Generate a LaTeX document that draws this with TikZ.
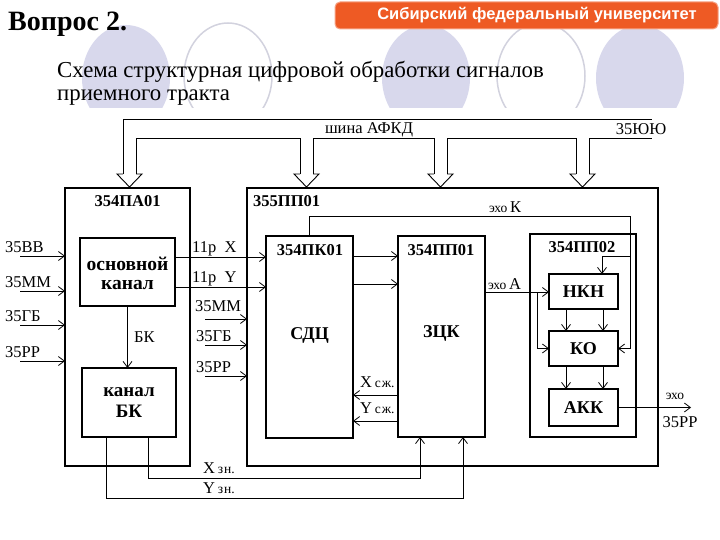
\documentclass[tikz,border=0pt]{standalone}
\usepackage{fontspec}
\setmainfont{Liberation Serif}
\newfontfamily\bannerfont{Liberation Sans}
\usetikzlibrary{arrows.meta}
\definecolor{lav}{HTML}{D8D8EC}
\definecolor{ringc}{HTML}{D2D2DE}
\definecolor{uniorange}{HTML}{EE5A24}
\newcommand\lblfont{\fontsize{16.5}{18}\selectfont}
\newcommand\smfont{\fontsize{13.5}{15}\selectfont}
\newcommand\ttlfont{\fontsize{16.5}{18}\selectfont\bfseries}
\newcommand\blkfont{\fontsize{18}{19}\selectfont\bfseries}
\begin{document}
\begin{tikzpicture}[x=1pt,y=-1pt,
  blk/.style={draw, line width=1.6pt, inner sep=0pt, outer sep=0pt},
  conn/.style={line width=0.8pt},
  arr/.style={conn, -{Straight Barb[length=6pt,width=9pt]}},
  bus/.style={line width=0.9pt, line join=miter},
  txt/.style={inner sep=0pt, font=\lblfont},
  ttl/.style={inner sep=0pt, font=\ttlfont},
  blktxt/.style={inner sep=0pt, font=\blkfont, align=center}]
\useasboundingbox (0,0) rectangle (720,540);

% decorative ellipses
\begin{scope}
  \clip (0,0) rectangle (720,108);
  \fill[lav] (126,78) ellipse [x radius=44pt, y radius=53pt];
  \draw[ringc, line width=1.5pt, fill=white] (228,76) ellipse [x radius=44pt, y radius=53pt];
  \fill[lav] (426,78) ellipse [x radius=44pt, y radius=53pt];
  \draw[ringc, line width=1.5pt, fill=white] (541,76) ellipse [x radius=44pt, y radius=53pt];
  \fill[lav] (640,78) ellipse [x radius=44pt, y radius=53pt];
\end{scope}

% banner
\draw[fill=uniorange, draw=uniorange!55!white, line width=1pt, rounded corners=5pt] (335,2) rectangle (718,29);
\node[inner sep=0pt, text=white, font=\bannerfont\bfseries\fontsize{16.5}{18}\selectfont] (banner) at (537,15.5) {Сибирский федеральный университет};

% titles
\node[anchor=base west, inner sep=0pt, font=\fontsize{28}{30}\selectfont\bfseries] (q) at (8,31) {Вопрос 2.};
\node[anchor=base west, inner sep=0pt, font=\fontsize{22.8}{25}\selectfont] (sub1) at (57,78) {Схема структурная цифровой обработки сигналов};
\node[anchor=base west, inner sep=0pt, font=\fontsize{22.8}{25}\selectfont] (sub2) at (57,101) {приемного тракта};

% bus
\draw[bus] (123,174) -- (123,119) -- (652,119);
\draw[bus] (136,174) -- (136,138) -- (300,138) -- (300,174);
\draw[bus] (313,174) -- (313,138) -- (434,138) -- (434,174);
\draw[bus] (447,174) -- (447,138) -- (576,138) -- (576,174);
\draw[bus] (589,174) -- (589,138) -- (652,138);
\draw[bus] (123,174) -- (117,174) -- (129.5,187) -- (142,174) -- (136,174);
\draw[bus] (300,174) -- (294,174) -- (306.5,187) -- (319,174) -- (313,174);
\draw[bus] (434,174) -- (428,174) -- (440.5,187) -- (453,174) -- (447,174);
\draw[bus] (576,174) -- (570,174) -- (582.5,187) -- (595,174) -- (589,174);
\node[txt] (busl) at (369,130) {шина АФКД};
\node[txt] (busr) at (641,129) {35ЮЮ};

% blocks
\node[blk, minimum width=125pt, minimum height=278pt] (pa) at (127.5,327) {};
\node[blk, minimum width=411pt, minimum height=278pt] (pp) at (452.5,327) {};
\node[blk, minimum width=95pt, minimum height=68pt] (main) at (127.5,272) {};
\node[blk, minimum width=94pt, minimum height=69pt] (bk) at (129,402.5) {};
\node[blk, minimum width=87pt, minimum height=202pt] (pk) at (309.5,337) {};
\node[blk, minimum width=87pt, minimum height=201pt] (zck) at (441.5,336.5) {};
\node[blk, minimum width=106pt, minimum height=203pt] (pp02) at (583,335.5) {};
\node[blk, minimum width=69pt, minimum height=35pt] (nkn) at (583.5,291.5) {};
\node[blk, minimum width=69pt, minimum height=35pt] (ko) at (583.5,348.5) {};
\node[blk, minimum width=69pt, minimum height=37pt] (akk) at (583.5,407.5) {};

% block texts
\node[ttl] (paT) at (127.5,201) {354ПА01};
\node[ttl, anchor=west] (ppT) at (253,201) {355ПП01};
\node[ttl] (pkT) at (310,250) {354ПК01};
\node[ttl] (zckT) at (441,250) {354ПП01};
\node[ttl] (pp02T) at (582,247) {354ПП02};
\node[blktxt, font=\fontsize{19.5}{19}\selectfont\bfseries] (mainT) at (127.5,273) {основной\\канал};
\node[blktxt, font=\fontsize{19}{21}\selectfont\bfseries] (bkT) at (129,403) {канал\\БК};
\node[blktxt] (pkB) at (309.5,335) {СДЦ};
\node[blktxt] (zckB) at (441.5,333) {ЗЦК};
\node[blktxt] (nknT) at (583.5,292) {НКН};
\node[blktxt] (koT) at (583.5,349) {КО};
\node[blktxt] (akkT) at (583.5,408) {АКК};

% left inputs
\coordinate (i1) at (20,256);
\coordinate (i2) at (20,291);
\coordinate (i3) at (20,325);
\coordinate (i4) at (20,361);
\draw[arr] (i1) -- (pa.west |- i1);
\draw[arr] (i2) -- (pa.west |- i2);
\draw[arr] (i3) -- (pa.west |- i3);
\draw[arr] (i4) -- (pa.west |- i4);
\node[txt, anchor=base west] (l1) at (5,252) {35ВВ};
\node[txt, anchor=base west] (l2) at (5,287) {35ММ};
\node[txt, anchor=base west] (l3) at (5,321) {35ГБ};
\node[txt, anchor=base west] (l4) at (5,357) {35РР};

% second inputs
\coordinate (j1) at (205,319);
\coordinate (j2) at (205,345);
\coordinate (j3) at (205,376);
\draw[arr] (j1) -- (pp.west |- j1);
\draw[arr] (j2) -- (pp.west |- j2);
\draw[arr] (j3) -- (pp.west |- j3);
\node[txt, anchor=base west] (m1) at (195,311) {35ММ};
\node[txt, anchor=base west] (m2) at (196,341) {35ГБ};
\node[txt, anchor=base west] (m3) at (196,372) {35РР};

% main channel outputs
\draw[arr] (main.east |- 0,257) -- (pk.west |- 0,257);
\draw[arr] (main.east |- 0,287) -- (pk.west |- 0,287);
\node[txt, anchor=base west] (x11) at (192,252) {11р\ \ X};
\node[txt, anchor=base west] (y11) at (192,282) {11р\ \ Y};

% BK
\draw[arr] (main.south) -- (main.south |- bk.north);
\node[txt, anchor=west] (bkl) at (134,337) {БК};

% PK -> ZCK
\draw[arr] (pk.east |- 0,256) -- (zck.west |- 0,256);
\draw[arr] (pk.east |- 0,284) -- (zck.west |- 0,284);

% ZCK -> PK
\draw[arr] (zck.west |- 0,395) -- (pk.east |- 0,395);
\draw[arr] (zck.west |- 0,421) -- (pk.east |- 0,421);
\node[txt, anchor=base west] (xsz) at (360,387) {X\,{\smfont с\kern1pt ж.}};
\node[txt, anchor=base west] (ysz) at (360,413) {Y\,{\smfont с\kern1pt ж.}};

% echo K
\coordinate (kR) at (630,216);
\coordinate (kB) at (630,256);
\draw[arr] (pk.north) |- (kR) |- (ko.east);
\draw[arr] (kB) -| (nkn.north -| 602,0);
\node[txt, anchor=base west] (ekl) at (489,212) {{\smfont эхо}\,К};

% echo A
\coordinate (aB) at (537,292);
\draw[arr] (zck.east |- aB) -- (nkn.west |- aB);
\draw[arr] (aB) |- (ko.west);
\node[txt, anchor=base west] (eal) at (488,289) {{\smfont эхо}\,А};

% inside 354PP02
\draw[arr] (nkn.south -| 566,0) -- (ko.north -| 566,0);
\draw[arr] (nkn.south -| 603,0) -- (ko.north -| 603,0);
\draw[arr] (ko.south -| 566,0) -- (akk.north -| 566,0);
\draw[arr] (ko.south -| 603,0) -- (akk.north -| 603,0);

% output
\coordinate (out) at (691,407.5);
\draw[arr] (akk.east) -- (out);
\node[inner sep=0pt, font=\smfont] (eo) at (675,396) {эхо};
\node[txt] (o35) at (680,422) {35РР};

% X/Y zn
\coordinate (xz) at (420,478);
\coordinate (yz) at (463,498);
\draw[arr] (bk.south -| 148,0) |- (xz) -- (zck.south -| xz);
\draw[arr] (bk.south -| 106,0) |- (yz) -- (zck.south -| yz);
\node[txt, anchor=base west] (xzl) at (203,473) {X\,{\smfont з\kern1pt н.}};
\node[txt, anchor=base west] (yzl) at (203,493) {Y\,{\smfont з\kern1pt н.}};
\end{tikzpicture}
\end{document}
